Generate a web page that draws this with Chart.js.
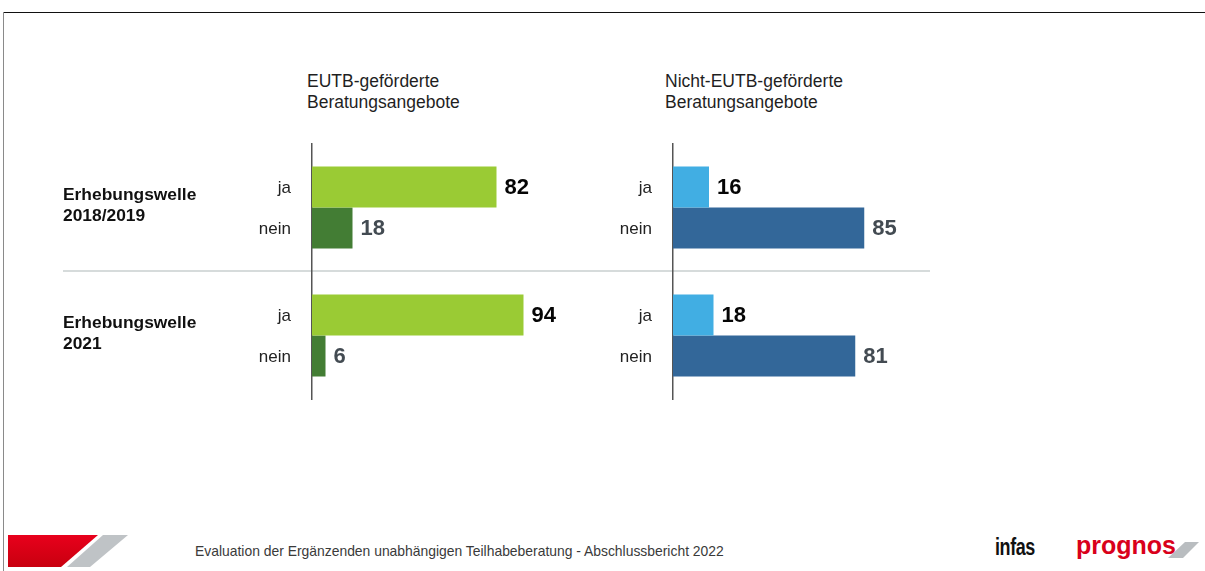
<!DOCTYPE html>
<html lang="de">
<head>
<meta charset="utf-8">
<script src="https://cdn.jsdelivr.net/npm/chart.js@4.4.1/dist/chart.umd.min.js"></script>
<style>
  html, body { margin:0; padding:0; background:#fff; }
  body { width:1205px; height:571px; position:relative; overflow:hidden; font-family:"Liberation Sans", Arial, sans-serif; }
  .abs { position:absolute; }
  .hdr { font-size:17.5px; line-height:21px; color:#1f1f1f; white-space:nowrap; }
  #topline { left:3px; top:12px; right:0; height:1px; background:#111; }
  #leftline { left:3px; top:12px; bottom:0; width:1px; background:#8a8a8a; }
  #sep { left:63px; top:270px; width:867px; height:2px; background:#d6dbdb; }
  #footer { left:195px; top:543px; font-size:13.9px; color:#3a3a3a; white-space:nowrap; }
  #infas { left:995px; top:534px; font-size:23px; font-weight:bold; color:#111; transform:scaleX(0.78); transform-origin:left top; letter-spacing:-0.5px; }
  #prognos { left:1076px; top:531px; font-size:25px; font-weight:bold; color:#d9001b; letter-spacing:0px; }
</style>
</head>
<body>
<div id="topline" class="abs"></div>
<div id="leftline" class="abs"></div>
<div id="sep" class="abs"></div>
<div id="hdrL" class="abs hdr" style="left:307px; top:70.5px;"></div>
<div id="hdrR" class="abs hdr" style="left:665px; top:70.5px;"></div>
<canvas id="cL" class="abs" width="520" height="290" style="left:60px; top:130px;"></canvas>
<canvas id="cR" class="abs" width="348" height="290" style="left:600px; top:130px;"></canvas>

<svg class="abs" style="left:0; top:525px;" width="140" height="46">
  <defs>
    <linearGradient id="rg" x1="0" y1="0" x2="0" y2="1">
      <stop offset="0" stop-color="#e8001c"/>
      <stop offset="1" stop-color="#c8000f"/>
    </linearGradient>
  </defs>
  <polygon points="8,10 98,10 61,42 8,42" fill="url(#rg)"/>
  <polygon points="103,10 128,10 90,42 67,42" fill="#bfc3c6"/>
</svg>
<div id="footer" class="abs">Evaluation der Ergänzenden unabhängigen Teilhabeberatung - Abschlussbericht 2022</div>
<div id="infas" class="abs">infas</div>
<div id="prognos" class="abs">prognos</div>
<svg class="abs" style="left:1160px; top:538px;" width="45" height="25">
  <polygon points="25,4 39,4 23,20 8,20" fill="#b9bdc0"/>
</svg>

<script>
// ---- data ----
const waves = [["Erhebungswelle", "2018/2019"], ["Erhebungswelle", "2021"]];
const answers = ["ja", "nein"];
const panelTitles = [["EUTB-geförderte", "Beratungsangebote"], ["Nicht-EUTB-geförderte", "Beratungsangebote"]];
const eutbJa = [82, 94];
const eutbNein = [18, 6];
const nichtEutbJa = [16, 18];
const nichtEutbNein = [85, 81];

// ---- styles ----
const FONT = '"Liberation Sans", Arial, sans-serif';
document.getElementById('hdrL').innerHTML = panelTitles[0].join('<br>');
document.getElementById('hdrR').innerHTML = panelTitles[1].join('<br>');

const barLabels = {
  id: 'barLabels',
  afterDatasetsDraw(chart) {
    const ctx = chart.ctx;
    chart.data.datasets.forEach((ds, di) => {
      const meta = chart.getDatasetMeta(di);
      meta.data.forEach((bar, i) => {
        ctx.save();
        ctx.textBaseline = 'middle';
        ctx.font = 'bold 22px ' + FONT;
        ctx.fillStyle = ds.valueColor;
        ctx.textAlign = 'left';
        ctx.fillText(String(ds.data[i]), bar.x + 8, bar.y + 1);
        ctx.font = '17px ' + FONT;
        ctx.fillStyle = '#222';
        ctx.textAlign = 'right';
        ctx.fillText(ds.label, chart.chartArea.left - 21, bar.y + 1);
        ctx.restore();
      });
    });
  }
};

function makeChart(id, jaData, neinData, colors, showWaves, axisWidth, padLeft, padRight) {
  return new Chart(document.getElementById(id), {
    type: 'bar',
    data: {
      labels: waves,
      datasets: [
        { label: answers[0], data: jaData, backgroundColor: colors[0], valueColor: '#050505' },
        { label: answers[1], data: neinData, backgroundColor: colors[1], valueColor: '#434b52' }
      ]
    },
    options: {
      indexAxis: 'y',
      responsive: false,
      animation: false,
      layout: { padding: { left: padLeft, top: 13.5, bottom: 20.5, right: padRight } },
      plugins: { legend: { display: false }, tooltip: { enabled: false }, title: { display: false } },
      datasets: { bar: { categoryPercentage: 0.64, barPercentage: 1 } },
      scales: {
        x: { display: false, min: 0, max: 100 },
        y: {
          grid: { display: false, drawTicks: false },
          border: { display: true, color: '#555', width: 1.5 },
          ticks: {
            display: showWaves,
            crossAlign: 'far',
            padding: 0,
            labelOffset: -2,
            color: '#111',
            font: { family: FONT, size: 17.4, weight: 'bold', lineHeight: 1.22 }
          },
          afterFit(scale) {
            scale.width = axisWidth;
            scale.paddingTop = 0;
            scale.paddingBottom = 0;
          }
        }
      }
    },
    plugins: [barLabels]
  });
}

makeChart('cL', eutbJa, eutbNein, ['#9acb34', '#437d34'], true, 249, 3, 43);
makeChart('cR', nichtEutbJa, nichtEutbNein, ['#41aee3', '#336799'], false, 73, 0, 50);
</script>
</body>
</html>
